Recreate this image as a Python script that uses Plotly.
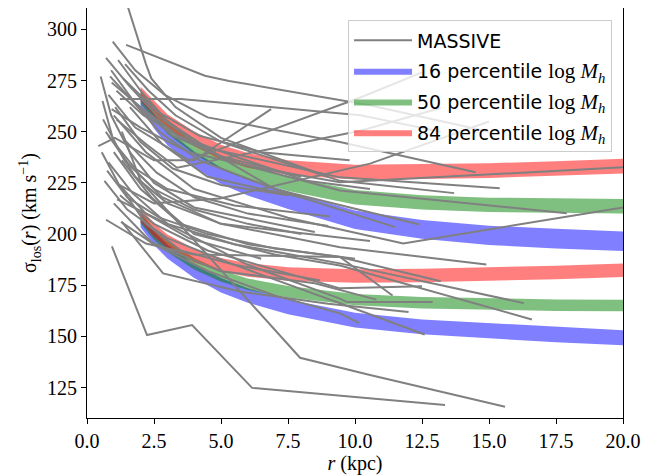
import plotly.graph_objects as go

# ---------------- data ----------------
BAND_R = [2.0, 2.5, 3.0, 4.0, 5.0, 6.0, 7.5, 10.0, 12.5, 15.0, 17.5, 20.0]

# upper group (higher sigma)
BLUE_U_LO = [262.2, 251.5, 243.4, 232.7, 224.5, 218.9, 212.2, 202.5, 197.7, 194.7, 193.0, 191.7]
BLUE_U_HI = [268.8, 258.5, 250.6, 240.3, 232.5, 227.1, 220.8, 211.5, 206.9, 204.1, 202.6, 201.3]
GREEN_U_LO = [263.7, 256.1, 249.0, 239.0, 231.5, 226.5, 221.0, 214.5, 212.0, 210.8, 210.3, 210.1]
GREEN_U_HI = [270.3, 262.9, 256.0, 246.0, 238.5, 233.5, 228.0, 221.5, 219.0, 217.8, 217.3, 217.1]
RED_U_LO = [265.1, 258.0, 251.5, 242.9, 236.4, 232.4, 228.9, 226.7, 226.9, 227.4, 228.4, 229.6]
RED_U_HI = [271.9, 265.0, 258.5, 250.1, 243.6, 239.6, 236.1, 233.9, 234.1, 234.6, 235.6, 236.8]

# lower group
BLUE_L_LO = [203.3, 194.7, 188.1, 178.6, 171.5, 166.5, 160.9, 154.4, 151.1, 149.1, 147.2, 145.7]
BLUE_L_HI = [209.7, 201.3, 194.9, 185.4, 178.5, 173.5, 168.1, 161.6, 158.3, 156.5, 154.6, 153.1]
GREEN_L_LO = [205.2, 197.2, 191.2, 182.7, 176.7, 172.7, 169.0, 165.2, 163.7, 163.0, 162.5, 162.3]
GREEN_L_HI = [210.8, 202.8, 196.8, 188.3, 182.3, 178.3, 174.6, 170.8, 169.3, 168.6, 168.1, 167.9]
RED_L_LO = [206.2, 198.7, 193.2, 186.2, 181.7, 179.2, 177.2, 176.2, 176.5, 177.1, 178.0, 179.1]
RED_L_HI = [212.8, 205.3, 199.8, 192.8, 188.3, 185.8, 183.8, 182.8, 183.1, 183.7, 184.6, 185.7]

# MASSIVE galaxy profiles (r in kpc, sigma in km/s)
MASSIVE_R = [
    [1.5, 2.2, 2.4, 3.3, 5.0, 9.0],
    [1.46, 4.4, 5.3, 10.5, 15.0],
    [0.96, 1.8, 2.9, 4.5, 9.44, 14.5],
    [0.71, 1.6, 2.6, 4.0, 7.0, 12.4],
    [0.51, 0.9, 1.6, 2.5, 4.0, 8.5],
    [0.86, 1.7, 2.7, 4.2, 7.0, 11.5],
    [1.16, 2.0, 3.0, 4.5, 9.44, 15.4],
    [1.42, 2.3, 3.3, 5.0, 9.44, 13.7],
    [0.92, 2.0, 3.5, 5.5, 9.44, 17.9],
    [1.23, 3.5, 10.2, 13.2],
    [0.92, 2.0, 3.8, 6.5, 9.44, 20.0],
    [0.58, 1.0, 1.8, 3.0, 5.0, 10.56],
    [0.42, 1.04, 2.5, 4.0, 5.1, 6.87],
    [0.8, 1.8, 3.8, 10.2, 12.5],
    [1.1, 2.2, 3.36, 10.2, 13.2],
    [1.2, 2.5, 4.96, 10.56, 15.0],
    [1.0, 2.2, 4.0, 7.5, 11.8, 20.0],
    [0.7, 1.5, 2.8, 5.0, 9.44, 14.9],
    [1.0, 2.0, 3.5, 6.0, 9.44, 13.2],
    [0.8, 1.7, 3.0, 5.5, 9.44, 16.3],
    [1.3, 2.4, 4.0, 7.0, 9.44, 16.6],
    [0.65, 1.5, 3.0, 5.5, 9.44, 12.6],
    [1.12, 3.0, 6.0, 9.44, 9.7, 12.9],
    [1.23, 2.5, 4.5, 9.44, 12.5],
    [0.71, 2.2, 4.0, 9.44, 11.4],
    [1.3, 2.0, 7.95, 10.56, 15.6],
    [0.93, 2.24, 3.92, 6.16, 13.36],
    [1.27, 2.5, 4.5, 7.0, 9.44, 10.15],
    [1.2, 2.2, 3.5, 5.5, 8.7],
    [0.8, 1.8, 3.0, 5.5, 9.07],
    [1.3, 2.84, 5.7, 9.0, 12.0],
    [0.6, 1.4, 2.5, 4.0, 6.0, 8.0],
    [1.05, 2.0, 3.2, 5.0, 7.5],
    [0.75, 1.5, 2.7, 4.5, 7.0, 10.0],
    [1.4, 2.6, 4.0, 6.0, 9.0],
    [0.55, 1.2, 2.2, 3.8, 6.5],
    [1.1, 2.1, 3.4, 5.5, 8.2, 10.56],
    [0.9, 1.9, 3.2, 5.0, 8.0],
    [1.35, 2.6, 4.2, 6.5, 9.8],
    [1.0, 2.4, 4.96, 8.5, 10.8],
    [1.6, 2.8, 4.5, 6.5, 8.0],
]
MASSIVE_SIGMA = [
    [312, 283, 276, 262, 247, 228],
    [292.4, 277.3, 274.8, 263, 250],
    [294, 280, 268, 257, 245, 230.2],
    [286, 272, 258, 245, 222, 204.7],
    [277, 258, 240, 225, 213, 201],
    [277, 265, 250, 236, 222, 203.4],
    [285, 270, 255, 242, 227.7, 222.4],
    [283, 270, 258, 245, 226, 220],
    [274, 262, 247, 235, 221.3, 210.2],
    [266, 266, 258, 250],
    [261, 252, 240, 232, 225.3, 232.6],
    [265, 245, 228, 215, 205, 196.6],
    [243, 247, 236, 236, 245.6, 261],
    [268, 252, 236, 266.7, 279],
    [256, 244, 232.4, 250.5, 261.6],
    [224, 215, 217.4, 234.4, 255],
    [258, 240, 222, 208, 195.4, 213],
    [250, 235, 218, 205, 193.6, 185.2],
    [240, 222, 205, 195, 188.8, 177],
    [235, 220, 205, 195, 185.7, 166.3],
    [236, 218, 200, 190, 184.7, 158.3],
    [226, 212, 198, 185, 166.2, 151],
    [217, 205, 185, 168.5, 166.8, 166.8],
    [219, 205, 192, 173.5, 174.5],
    [207, 195.4, 190, 188.8, 170],
    [250, 226, 139.6, 131.2, 115.7],
    [194, 150.7, 155.6, 124.9, 116.6],
    [206, 195, 182, 170, 161.3, 156.6],
    [224, 205, 192, 185, 177.4],
    [248, 232, 222, 214, 208.6],
    [206, 180.8, 172, 166, 162],
    [256, 236, 222, 212, 205, 200],
    [262, 245, 232, 224, 219],
    [231, 218, 208, 200, 193, 188],
    [246, 230, 218, 210, 204],
    [240, 224, 210, 198, 188],
    [270, 258, 248, 238, 226, 222],
    [280, 262, 248, 238, 228],
    [276, 260, 248, 240, 236],
    [215, 196, 182, 176, 168],
    [262, 244, 228, 222, 218],
]

X_TICKS = [0.0, 2.5, 5.0, 7.5, 10.0, 12.5, 15.0, 17.5, 20.0]
Y_TICKS = [125, 150, 175, 200, 225, 250, 275, 300]

SERIF = "Liberation Serif, DejaVu Serif, serif"
SANS = "DejaVu Sans, sans-serif"
MATH = '<span style="font-family:Liberation Serif;font-size:21px">log <i>M<sub>h</sub></i></span>'

fig = go.Figure()

bands = [
    ("blue", "rgba(0,0,255,0.5)", "16", BLUE_U_LO, BLUE_U_HI, BLUE_L_LO, BLUE_L_HI, 2),
    ("green", "rgba(0,128,0,0.5)", "50", GREEN_U_LO, GREEN_U_HI, GREEN_L_LO, GREEN_L_HI, 3),
    ("red", "rgba(255,0,0,0.5)", "84", RED_U_LO, RED_U_HI, RED_L_LO, RED_L_HI, 4),
]
for name, col, pct, ulo, uhi, llo, lhi, rank in bands:
    for i, (lo, hi) in enumerate([(ulo, uhi), (llo, lhi)]):
        fig.add_trace(go.Scatter(
            x=BAND_R + BAND_R[::-1],
            y=hi + lo[::-1],
            fill="toself", fillcolor=col,
            line=dict(width=0, color=col),
            mode="lines", hoverinfo="skip",
            name=f"{pct} percentile {MATH}",
            legendgroup=name, showlegend=(i == 0), legendrank=rank,
        ))

for k, (rr, ss) in enumerate(zip(MASSIVE_R, MASSIVE_SIGMA)):
    fig.add_trace(go.Scatter(
        x=rr, y=ss, mode="lines",
        line=dict(color="#808080", width=2),
        name="MASSIVE", legendgroup="massive",
        showlegend=(k == 0), legendrank=1, hoverinfo="skip",
    ))

# page body adds an 8px offset; figure sized so the plot area lands where the reference has it
fig.update_layout(
    width=648, height=467,
    margin=dict(l=79, r=33, t=0, b=57),
    paper_bgcolor="white", plot_bgcolor="white",
    showlegend=True,
    legend=dict(
        x=0.487, y=0.97, xanchor="left", yanchor="top",
        bgcolor="rgba(255,255,255,0.8)", bordercolor="#cccccc", borderwidth=1,
        font=dict(family=SANS, size=19, color="black"),
        itemwidth=58, tracegroupgap=3,
    ),
    font=dict(family=SERIF, color="black"),
)
fig.update_xaxes(
    range=[0, 20], tickvals=X_TICKS, tickformat=".1f",
    showgrid=False, zeroline=False, automargin=False,
    showline=True, mirror=True, linecolor="black", linewidth=1.2,
    ticks="outside", ticklen=5, tickwidth=1.2, tickcolor="black",
    tickfont=dict(family=SERIF, size=20),
    title=dict(text="<i>r</i> (kpc)", font=dict(family=SERIF, size=20), standoff=2),
)
fig.update_yaxes(
    range=[110.2, 310.4], tickvals=Y_TICKS,
    showgrid=False, zeroline=False, automargin=False,
    showline=True, mirror=True, linecolor="black", linewidth=1.2,
    ticks="outside", ticklen=5, tickwidth=1.2, tickcolor="black",
    tickfont=dict(family=SERIF, size=20),
    title=dict(text="σ<sub>los</sub>(<i>r</i>) (km s<sup>−1</sup>)",
               font=dict(family=SERIF, size=20), standoff=4),
)

fig.write_html("out.html")
